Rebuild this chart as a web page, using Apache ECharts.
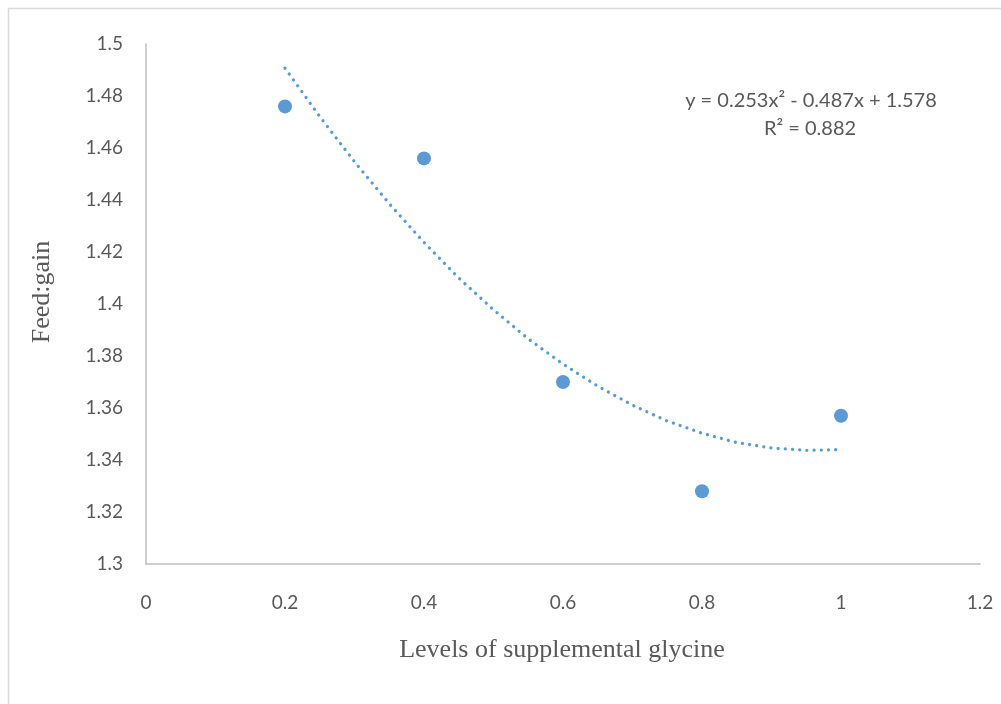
<!DOCTYPE html>
<html><head><meta charset="utf-8">
<script src="https://cdn.jsdelivr.net/npm/echarts@6/dist/echarts.min.js"></script>
<style>html,body{margin:0;padding:0;background:#fff}#c{width:1001px;height:704px}</style>
</head><body><div id="c"></div>
<script>
var xLevels = [0.2, 0.4, 0.6, 0.8, 1.0];
var feedGain = [1.476, 1.456, 1.370, 1.328, 1.357];
var trendX = [0.2, 0.25, 0.3, 0.35, 0.4, 0.45, 0.5, 0.55, 0.6, 0.65, 0.7, 0.75, 0.8, 0.85, 0.9, 0.95, 1.0];
var trendY = [1.4907, 1.4721, 1.4547, 1.4386, 1.4237, 1.4100, 1.3978, 1.3866, 1.3769, 1.3684, 1.3611, 1.3550, 1.3503, 1.3467, 1.3446, 1.3437, 1.3440];
var eqText = 'y = 0.253x² - 0.487x + 1.578';
var r2Text = 'R² = 0.882';
var xTitle = 'Levels of supplemental glycine';
var yTitle = 'Feed:gain';

var chart = echarts.init(document.getElementById('c'));
var lab = {color:'#595959', fontSize:19, fontFamily:'Lato'};
chart.setOption({
  animation:false,
  grid:{left:146, top:44, right:21, bottom:140},
  xAxis:{type:'value', min:0, max:1.2, interval:0.2,
    axisLine:{show:true, lineStyle:{color:'#bfbfbf', width:1.5}},
    axisTick:{show:false}, splitLine:{show:false},
    axisLabel:Object.assign({margin:29}, lab)},
  yAxis:{type:'value', min:1.3, max:1.5, interval:0.02,
    axisLine:{show:true, lineStyle:{color:'#bfbfbf', width:1.5}},
    axisTick:{show:false}, splitLine:{show:false},
    axisLabel:Object.assign({margin:23, formatter:function(v){return String(+v.toFixed(2));}}, lab)},
  graphic:[
    {type:'polyline', shape:{points:[[8.5,720],[8.5,8.5],[1020,8.5]]}, style:{stroke:'#d9d9d9', lineWidth:1.5, fill:null}},
    {type:'text', x:811, y:101, style:{text:eqText, fill:'#595959', font:'20px Lato', align:'center', verticalAlign:'middle'}},
    {type:'text', x:810, y:129, style:{text:r2Text, fill:'#595959', font:'20px Lato', align:'center', verticalAlign:'middle'}},
    {type:'text', x:562, y:650, style:{text:xTitle, fill:'#595959', font:'26px "Liberation Serif"', align:'center', verticalAlign:'middle'}},
    {type:'text', x:42, y:292, rotation:Math.PI/2, style:{text:yTitle, fill:'#595959', font:'26px "Liberation Serif"', align:'center', verticalAlign:'middle'}}
  ],
  series:[
    {type:'line', data:trendX.map(function(x,i){return [x,trendY[i]];}), smooth:false, symbol:'none',
      lineStyle:{color:'#5b9bd5', width:3.3, type:[0.01,7.2], cap:'round'}, z:1},
    {type:'scatter', data:xLevels.map(function(x,i){return [x,feedGain[i]];}), symbolSize:14,
      itemStyle:{color:'#5b9bd5', opacity:1}, z:2}
  ]
});
</script></body></html>
